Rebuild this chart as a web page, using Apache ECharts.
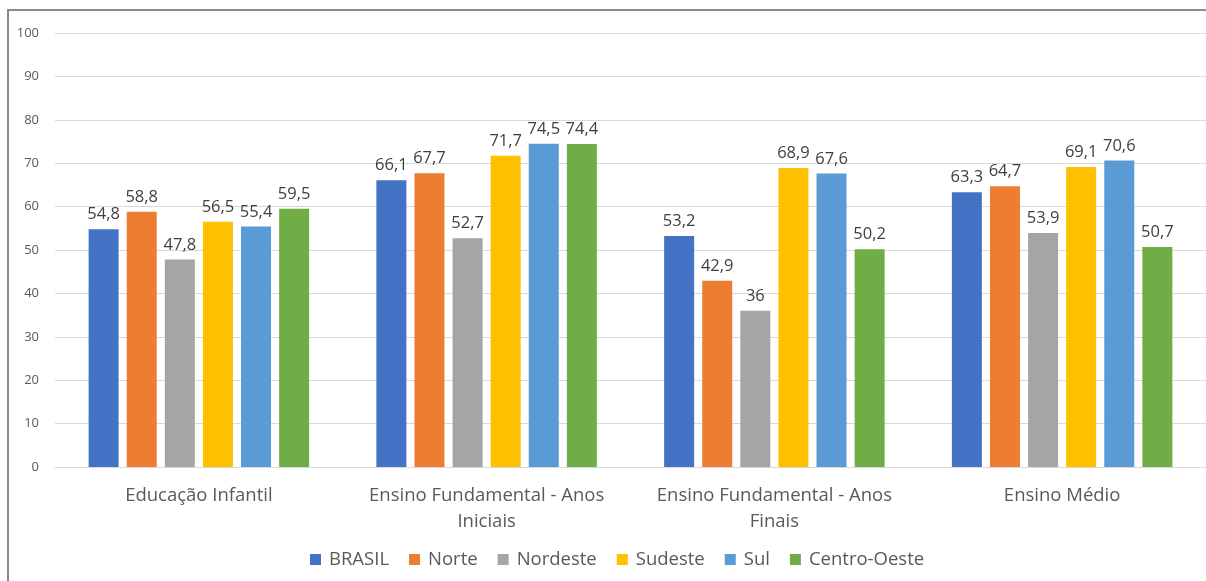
<!DOCTYPE html>
<html>
<head>
<meta charset="utf-8">
<script src="https://cdn.jsdelivr.net/npm/echarts@6/dist/echarts.min.js"></script>
<style>
  html, body { margin: 0; padding: 0; background: #fff; }
  #frame { position: absolute; left: 7px; top: 9px; width: 1220px; height: 600px;
           border: 2px solid #8a8a8a; box-sizing: border-box; }
  #chart { position: absolute; left: 0; top: 0; width: 1206px; height: 581px; }
</style>
</head>
<body>
<div id="frame"></div>
<div id="chart"></div>
<script>
// Stages of schooling (x axis)
const categories = [
  'Educação Infantil',
  'Ensino Fundamental - Anos\nIniciais',
  'Ensino Fundamental - Anos\nFinais',
  'Ensino Médio'
];
// Regions and their values per stage
const seriesNames = ['BRASIL', 'Norte', 'Nordeste', 'Sudeste', 'Sul', 'Centro-Oeste'];
const brasil      = [54.8, 66.1, 53.2, 63.3];
const norte       = [58.8, 67.7, 42.9, 64.7];
const nordeste    = [47.8, 52.7, 36.0, 53.9];
const sudeste     = [56.5, 71.7, 68.9, 69.1];
const sul         = [55.4, 74.5, 67.6, 70.6];
const centroOeste = [59.5, 74.4, 50.2, 50.7];
const yTicks = { min: 0, max: 100, interval: 10 };

const colors = ['#4472c4', '#ed7d31', '#a5a5a5', '#ffc000', '#5b9bd5', '#70ad47'];
const seriesData = [brasil, norte, nordeste, sudeste, sul, centroOeste];
const font = 'Open Sans, Noto Sans, sans-serif';

const chart = echarts.init(document.getElementById('chart'));
chart.setOption({
  animation: false,
  color: colors,
  textStyle: { fontFamily: font },
  grid: { left: 55, right: 0, top: 33, bottom: 114, containLabel: false },
  legend: {
    bottom: 7,
    left: 305,
    icon: 'rect',
    itemWidth: 11,
    itemHeight: 11,
    itemGap: 20,
    textStyle: { color: '#595959', fontSize: 18.5, fontFamily: font, padding: [0, 0, 0, 3] },
    data: seriesNames
  },
  xAxis: {
    type: 'category',
    data: categories,
    axisLine: { show: true, lineStyle: { color: '#d9d9d9', width: 1 } },
    axisTick: { show: false },
    axisLabel: { interval: 0, color: '#595959', fontSize: 18.5, lineHeight: 26, margin: 16, fontFamily: font }
  },
  yAxis: {
    type: 'value',
    min: yTicks.min,
    max: yTicks.max,
    interval: yTicks.interval,
    axisLine: { show: false },
    axisTick: { show: false },
    splitLine: { lineStyle: { color: '#d9d9d9', width: 1 } },
    axisLabel: { color: '#595959', fontSize: 13, margin: 16, fontFamily: font }
  },
  series: seriesNames.map((name, i) => ({
    name,
    type: 'bar',
    data: seriesData[i],
    barWidth: 30,
    barGap: '27%',
    label: {
      show: true,
      position: 'top',
      distance: 6,
      color: '#404040',
      fontSize: 16.5,
      fontFamily: font,
      formatter: p => String(p.value).replace('.', ',')
    }
  }))
});
</script>
</body>
</html>
